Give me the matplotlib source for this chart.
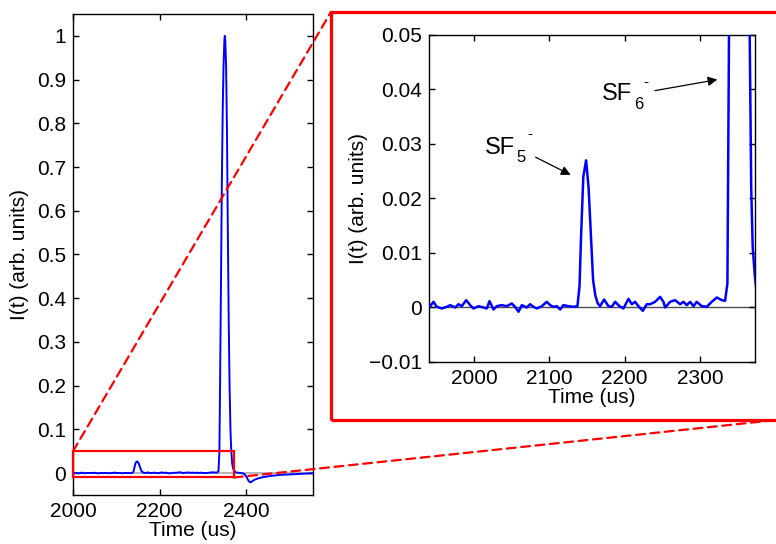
import numpy as np
import matplotlib
matplotlib.use("Agg")
import matplotlib.pyplot as plt
from matplotlib.patches import Rectangle, ConnectionPatch

plt.rcParams['font.family'] = ['Liberation Sans', 'DejaVu Sans']

# time axis (us) and normalised current
time_us = [1941.6, 1946.0, 1950.4, 1957.1, 1963.7, 1968.1, 1974.8, 1979.2, 1983.6, 1989.4,
           1994.7, 1999.1, 2005.8, 2012.4, 2016.8, 2020.4, 2025.7, 2030.1, 2036.7, 2043.4,
           2050.0, 2054.4, 2058.9, 2063.3, 2069.9, 2074.4, 2078.8, 2083.2, 2089.9, 2096.5,
           2100.9, 2105.4, 2109.8, 2114.2, 2118.6, 2125.3, 2131.9, 2137.2, 2140.0, 2142.0,
           2145.0, 2148.7, 2152.0, 2155.0, 2158.0, 2161.0, 2164.0, 2167.3, 2172.6, 2178.4,
           2182.8, 2187.3, 2193.0, 2198.3, 2205.0, 2209.4, 2213.8, 2218.2, 2224.0, 2229.3,
           2233.7, 2240.4, 2247.0, 2251.4, 2253.7, 2260.3, 2266.9, 2273.6, 2278.0, 2282.4,
           2286.9, 2291.3, 2295.7, 2302.3, 2309.0, 2315.6, 2322.3, 2328.9, 2333.3, 2336.4,
           2338.5, 2340.0, 2342.0, 2344.0, 2346.0, 2348.0, 2350.0, 2351.0, 2352.0, 2354.0,
           2356.0, 2358.0, 2360.0, 2362.0, 2364.0, 2366.0, 2368.0, 2370.0, 2373.0, 2376.0,
           2380.0, 2390.0, 2396.0, 2401.0, 2405.0, 2408.0, 2411.0, 2415.0, 2420.0, 2428.0,
           2440.0, 2460.0, 2480.0, 2500.0, 2520.0, 2540.0, 2560.0]
current = [0.00024, 0.00104, 0.00012, -0.00018, 0.00012, 0.00043, 0.0, 0.0006, 0.00024, 0.00134,
           0.00043, -0.00018, 0.00024, 0.0, -0.00018, 0.00116, -0.00037, 0.00024, 0.00043, 0.00024,
           0.00073, 0.00012, -0.00079, 0.00043, 0.0, 0.0006, 0.00012, -0.00018, 0.00024, 0.00104,
           0.00043, 0.00012, 0.00024, -0.00037, 0.00043, 0.00024, 0.00012, 0.00024, 0.004, 0.013,
           0.024, 0.027, 0.022, 0.0135, 0.005, 0.0022, 0.0008, 0.00024, 0.00146, 0.00024,
           0.00012, 0.00104, 0.00024, -0.00018, 0.00159, 0.0006, 0.00104, 0.00024, -0.00061, 0.0006,
           0.0006, 0.00104, 0.00195, 0.00104, 0.0, 0.00104, 0.00134, 0.0006, 0.00104, 0.00043,
           0.00104, 0.00024, 0.00104, 0.00024, 0.00012, 0.00104, 0.00183, 0.00134, 0.00122, 0.0044,
           0.05, 0.2, 0.42, 0.65, 0.82, 0.93, 0.99, 1.0, 0.99, 0.93,
           0.78, 0.55, 0.35, 0.2, 0.1, 0.05, 0.022, 0.011, 0.0055, 0.002,
           0.001, 0.0, -0.002, -0.008, -0.016, -0.02, -0.021, -0.018, -0.015, -0.012,
           -0.009, -0.006, -0.004, -0.003, -0.002, -0.001, 0.0]

main_xticks = [2000, 2200, 2400]
main_yticks = [0, 0.1, 0.2, 0.3, 0.4, 0.5, 0.6, 0.7, 0.8, 0.9, 1.0]
main_ylabels = ['0', '0.1', '0.2', '0.3', '0.4', '0.5', '0.6', '0.7', '0.8', '0.9', '1']
inset_xticks = [2000, 2100, 2200, 2300]
inset_yticks = [-0.01, 0, 0.01, 0.02, 0.03, 0.04, 0.05]
inset_ylabels = ['\u22120.01', '0', '0.01', '0.02', '0.03', '0.04', '0.05']
zoom_box = (2000, -0.01, 2372, 0.05)   # x0, y0, x1, y1

fig = plt.figure(figsize=(7.76, 5.44), dpi=100)
ax = fig.add_axes([0.0941, 0.0901, 0.3093, 0.8842])
axi = fig.add_axes([0.5528, 0.3346, 0.4201, 0.6011])

fs = 15
for a in (ax, axi):
    a.tick_params(direction='in', top=True, right=True, labelsize=fs, length=4, width=1, pad=5)
    for s in a.spines.values():
        s.set_linewidth(1.0)

# main panel
ax.axhline(0, color='#a8a8a8', lw=1.2, zorder=1)
ax.plot(time_us, current, color='#0000ff', lw=1.4, zorder=3)
ax.set_xlim(2000, 2555)
ax.set_ylim(-0.05, 1.05)
ax.set_xticks(main_xticks)
ax.set_yticks(main_yticks)
ax.set_yticklabels(main_ylabels)
ax.set_xlabel('Time (us)', fontsize=fs, labelpad=0)
ax.set_ylabel('I(t) (arb. units)', fontsize=fs, labelpad=6)
ax.add_patch(Rectangle((zoom_box[0], zoom_box[1]), zoom_box[2] - zoom_box[0], zoom_box[3] - zoom_box[1],
                       fill=False, edgecolor='red', lw=1.6, zorder=4, clip_on=False))

# zoomed panel
axi.axhline(0, color='#505050', lw=1.0, zorder=1)
axi.plot(time_us, current, color='#0000ff', lw=1.8, zorder=3)
axi.set_xlim(1940, 2373)
axi.set_ylim(-0.01, 0.05)
axi.set_xticks(inset_xticks)
axi.set_yticks(inset_yticks)
axi.set_yticklabels(inset_ylabels)
axi.set_xlabel('Time (us)', fontsize=fs, labelpad=0)
axi.set_ylabel('I(t) (arb. units)', fontsize=fs, labelpad=1)

# peak labels
axi.text(2014.6, 0.0282, 'SF', fontsize=17, va='baseline')
axi.text(2056.5, 0.0275, '5', fontsize=12, va='center')
axi.text(2071, 0.0318, '-', fontsize=11, va='center')
axi.annotate('', xy=(2131.5, 0.0241), xytext=(2078.4, 0.0278),
             arrowprops=dict(arrowstyle='-|>', color='black', lw=0.9, mutation_scale=14))
axi.text(2170, 0.0381, 'SF', fontsize=17, va='baseline')
axi.text(2212, 0.0373, '6', fontsize=12, va='center')
axi.text(2225, 0.0413, '-', fontsize=11, va='center')
axi.annotate('', xy=(2326.7, 0.0419), xytext=(2236.4, 0.0397),
             arrowprops=dict(arrowstyle='-|>', color='black', lw=0.9, mutation_scale=14))

# red frame around the zoomed panel
fig.add_artist(Rectangle((0.4265, 0.2279), 0.6, 0.7501, transform=fig.transFigure,
                         fill=False, edgecolor='red', lw=2.3))

# dashed connectors
for pa, pb in [((zoom_box[0], zoom_box[3]), (0.4265, 0.978)),
               ((zoom_box[2], zoom_box[1]), (1.0, 0.2279))]:
    con = ConnectionPatch(xyA=pa, coordsA=ax.transData, xyB=pb, coordsB=fig.transFigure,
                          color='red', lw=1.6, linestyle=(0, (4, 2.5)))
    fig.add_artist(con)

fig.savefig('out.png', dpi=100)
